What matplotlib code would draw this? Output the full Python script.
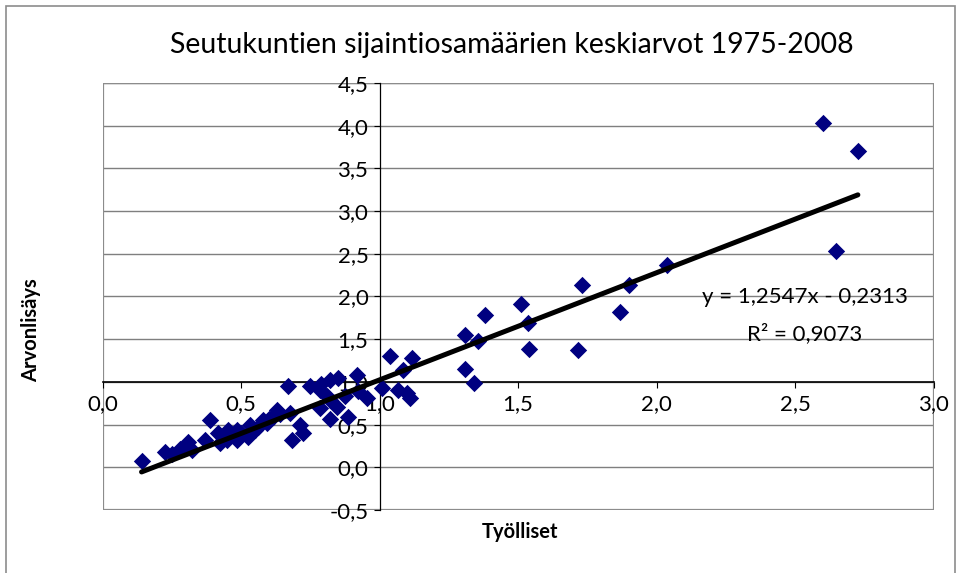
"""Seutukuntien sijaintiosamäärien keskiarvot 1975-2008: Työlliset vs. Arvonlisäys, Excel-style scatter."""

import matplotlib

matplotlib.use("Agg")
import matplotlib.pyplot as plt
import numpy as np
from matplotlib.patches import Rectangle
from matplotlib.ticker import FuncFormatter, MultipleLocator

plt.rcParams["font.family"] = ["Lato", "DejaVu Sans"]

# values
tyolliset = [
    2.600, 2.727, 2.648, 2.037, 1.902, 1.868, 1.730, 1.715, 1.511, 1.537,
    1.540, 1.381, 1.354, 1.309, 1.309, 1.341, 1.116, 1.038, 1.086, 1.068,
    1.110, 1.100, 1.008, 0.954, 0.924, 0.918, 0.887, 0.875, 0.851, 0.845,
    0.821, 0.821, 0.790, 0.785, 0.821, 0.810, 0.785, 0.749, 0.725, 0.713,
    0.683, 0.677, 0.671, 0.629, 0.617, 0.593, 0.580, 0.550, 0.532, 0.526,
    0.484, 0.478, 0.484, 0.454, 0.448, 0.424, 0.418, 0.388, 0.370, 0.322,
    0.310, 0.280, 0.250, 0.226, 0.141, 0.560, 0.600, 0.640, 0.500,
]
arvonlisays = [
    4.03, 3.70, 2.53, 2.37, 2.14, 1.82, 2.14, 1.37, 1.91, 1.69,
    1.38, 1.78, 1.48, 1.55, 1.15, 0.99, 1.28, 1.30, 1.14, 0.91,
    0.81, 0.87, 0.93, 0.81, 0.89, 1.08, 0.59, 0.83, 1.04, 0.71,
    0.79, 1.02, 0.98, 0.69, 0.57, 0.83, 0.91, 0.95, 0.40, 0.50,
    0.32, 0.63, 0.95, 0.67, 0.59, 0.52, 0.55, 0.44, 0.50, 0.36,
    0.32, 0.38, 0.44, 0.44, 0.32, 0.28, 0.40, 0.55, 0.32, 0.20,
    0.30, 0.22, 0.16, 0.18, 0.07, 0.47, 0.57, 0.62, 0.40,
]

# linear trendline as printed on the chart
slope, intercept, r2 = 1.2547, -0.2313, 0.9073

title = "Seutukuntien sijaintiosamäärien keskiarvot 1975-2008"
x_label = "Työlliset"
y_label = "Arvonlisäys"


def comma(v, _pos=None):
    return f"{v:.1f}".replace(".", ",")


fig = plt.figure(figsize=(9.6, 5.73), dpi=100)
fig.patches.append(Rectangle((6 / 960, -0.01), 949 / 960, 1.0, transform=fig.transFigure,
                             fill=False, edgecolor="#8c8c8c", linewidth=1.2))

ax = fig.add_axes([102.5 / 960, 63 / 573, 831 / 960, 427 / 573])
ax.set_xlim(0, 3)
ax.set_ylim(-0.5, 4.5)

# plot-area border
ax.add_patch(Rectangle((0, 0), 1, 1, transform=ax.transAxes, fill=False,
                       edgecolor="#8c8c8c", linewidth=1.6, zorder=0.5))
for v in np.arange(-0.5, 4.51, 0.5):
    ax.axhline(v, color="#7f7f7f", linewidth=1.0, zorder=0.4)

# axes cross at (1, 1) like the Excel original
for side in ("top", "right"):
    ax.spines[side].set_visible(False)
ax.spines["left"].set_position(("data", 1))
ax.spines["bottom"].set_position(("data", 1))
ax.spines["left"].set_color("black")
ax.spines["bottom"].set_color("black")
ax.spines["left"].set_linewidth(0.9)
ax.spines["bottom"].set_linewidth(1.2)

ax.xaxis.set_major_locator(MultipleLocator(0.5))
ax.yaxis.set_major_locator(MultipleLocator(0.5))
ax.xaxis.set_major_formatter(FuncFormatter(comma))
ax.yaxis.set_major_formatter(FuncFormatter(comma))
ax.tick_params(axis="both", direction="out", length=4, width=0.8, labelsize=16, colors="black")
ax.tick_params(axis="x", pad=5)
ax.tick_params(axis="y", pad=4)

ax.scatter(tyolliset, arvonlisays, marker="D", s=78, color="#000080", linewidths=0, zorder=3)

xs = np.array([min(tyolliset), max(tyolliset)])
ax.plot(xs, slope * xs + intercept, color="black", linewidth=3.6, solid_capstyle="round", zorder=4)

eq = f"y = {slope:.4f}x - {abs(intercept):.4f}".replace(".", ",")
ax.text(2.536, 1.995, eq, ha="center", va="center", fontsize=16, zorder=5)
ax.text(2.536, 1.56, f"R² = {r2:.4f}".replace(".", ","), ha="center", va="center", fontsize=16, zorder=5)

fig.text(512 / 960, 1 - 45 / 573, title, ha="center", va="center", fontsize=20.5)
fig.text(520 / 960, 1 - 532 / 573, x_label, ha="center", va="center", fontsize=14.5, fontweight="bold")
fig.text(31 / 960, 1 - 330 / 573, y_label, ha="center", va="center", fontsize=14.5,
         fontweight="bold", rotation=90)

fig.savefig("out.png", dpi=100)
